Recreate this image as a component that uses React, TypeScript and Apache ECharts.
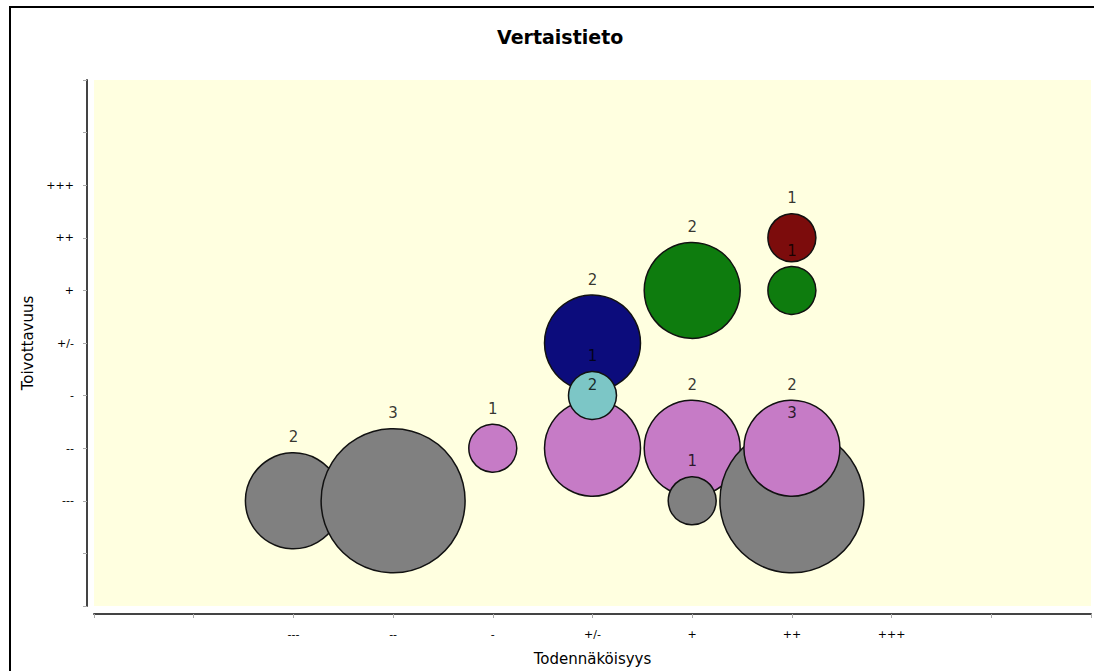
import React, { useEffect, useRef } from "react";
import * as echarts from "echarts";

// Tick labels for level index 0..10 (both axes share the same scale)
const levelLabels = ["", "", "---", "--", "-", "+/-", "+", "++", "+++", "", ""];

// Bubbles (in drawing order)
const xLevel = [2, 3, 4, 5, 5, 5, 6, 6, 6, 7, 7, 7, 7];
const yLevel = [2, 2, 3, 3, 5, 4, 3, 2, 6, 2, 3, 6, 7];
const counts = [2, 3, 1, 2, 2, 1, 2, 1, 2, 3, 2, 1, 1];
const groups = ["gray", "gray", "pink", "pink", "navy", "teal", "pink", "gray", "green", "gray", "pink", "green", "red"];

const palette: Record<string, string> = {
  gray: "#808080",
  pink: "#C67BC6",
  navy: "#0C0C7C",
  teal: "#7CC6C6",
  green: "#0E7C0E",
  red: "#7C0C0C",
};

const FONT = "DejaVu Sans";

export default function App() {
  const ref = useRef<HTMLDivElement>(null);

  useEffect(() => {
    if (!ref.current) return;
    document.body.style.margin = "0";
    document.body.style.overflow = "hidden";
    const chart = echarts.init(ref.current, null, { renderer: "svg" });
    const points = xLevel.map((x, i) => [x, yLevel[i], counts[i]]);
    const sizeOf = (v: number[]) => v[2] * 48;

    chart.setOption({
      animation: false,
      backgroundColor: "#ffffff",
      textStyle: { fontFamily: FONT },
      title: {
        text: "Vertaistieto",
        left: 492,
        top: 22,
        textStyle: { fontFamily: FONT, fontSize: 19, fontWeight: "bold", color: "#000" },
      },
      graphic: [
        {
          type: "rect",
          shape: { x: 10, y: 7, width: 1090, height: 670 },
          style: { fill: "none", stroke: "#000", lineWidth: 2 },
          silent: true,
        },
      ],
      grid: {
        left: 94,
        top: 80,
        width: 1002,
        height: 527,
        show: true,
        backgroundColor: "#FFFFE0",
        borderWidth: 0,
      },
      xAxis: {
        type: "value",
        min: 0,
        max: 10,
        interval: 1,
        offset: 8,
        name: "Todennäköisyys",
        nameLocation: "middle",
        nameGap: 37,
        nameTextStyle: { fontFamily: FONT, fontSize: 15, color: "#000" },
        axisLine: { show: true, onZero: false, lineStyle: { color: "#444", width: 2 } },
        axisTick: { show: true, length: 4, lineStyle: { color: "#aaa" } },
        axisLabel: {
          formatter: (v: number) => levelLabels[v] ?? "",
          color: "#000",
          fontFamily: FONT,
          fontSize: 11,
          margin: 15,
        },
        splitLine: { show: false },
      },
      yAxis: {
        type: "value",
        min: 0,
        max: 10,
        interval: 1,
        offset: 7,
        name: "Toivottavuus",
        nameLocation: "middle",
        nameGap: 44,
        nameTextStyle: { fontFamily: FONT, fontSize: 15, color: "#000" },
        axisLine: { show: true, onZero: false, lineStyle: { color: "#444", width: 2 } },
        axisTick: { show: true, length: 4, lineStyle: { color: "#aaa" } },
        axisLabel: {
          formatter: (v: number) => levelLabels[v] ?? "",
          color: "#000",
          fontFamily: FONT,
          fontSize: 11,
          margin: 13,
        },
        splitLine: { show: false },
      },
      series: [
        {
          type: "scatter",
          z: 2,
          silent: true,
          symbolSize: sizeOf,
          data: points.map((p, i) => ({
            value: p,
            itemStyle: {
              color: palette[groups[i]],
              borderColor: "#111",
              borderWidth: 1.5,
              opacity: 1,
            },
          })),
          emphasis: { disabled: true },
        },
        {
          type: "scatter",
          z: 10,
          silent: true,
          symbolSize: sizeOf,
          itemStyle: { color: "rgba(0,0,0,0)", borderWidth: 0 },
          label: {
            show: true,
            position: "top",
            distance: 8,
            formatter: (p: any) => String(p.value[2]),
            fontFamily: FONT,
            fontSize: 15,
            color: "#000",
          },
          data: points,
          emphasis: { disabled: true },
        },
      ],
    });

    return () => chart.dispose();
  }, []);

  return (
    <div
      ref={ref}
      style={{ position: "absolute", left: 0, top: 0, width: 1094, height: 671, overflow: "hidden" }}
    />
  );
}
